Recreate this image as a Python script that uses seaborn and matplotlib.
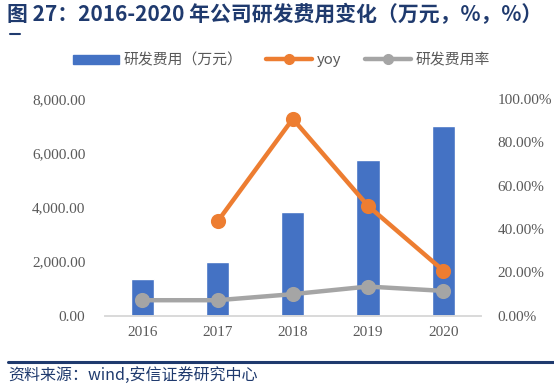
import pandas as pd
import numpy as np
import matplotlib.pyplot as plt
import seaborn as sns
from matplotlib.lines import Line2D
from matplotlib.patches import Patch

###############################################################################
# data
###############################################################################
years = ["2016", "2017", "2018", "2019", "2020"]
rd_cost = [1365, 2000, 3825, 5755, 6985]          # 研发费用（万元）
yoy = [np.nan, 43.5, 90.8, 50.7, 20.9]             # %
rd_rate = [7.2, 7.2, 10.0, 13.5, 11.5]             # %

df = pd.DataFrame({"year": years, "cost": rd_cost, "yoy": yoy, "rate": rd_rate})

###############################################################################
# style
###############################################################################
sns.set_style("white")
plt.rcParams['font.family'] = ['Noto Sans CJK SC', 'DejaVu Sans']

BLUE = "#4472C4"
ORANGE = "#ED7D31"
GRAY = "#A5A5A5"
TXT = "#595959"
NAVY = "#1F3A6E"

fig = plt.figure(figsize=(5.54, 3.88), dpi=100)
ax = fig.add_axes([0.189, 0.186, 0.679, 0.559])

sns.barplot(data=df, x="year", y="cost", color=BLUE, width=0.31,
            saturation=1, ax=ax)
ax.set_ylim(0, 8000)
ax.set_xlim(-0.5, 4.5)
ax.set_yticks([0, 2000, 4000, 6000, 8000])
ax.set_yticklabels([f"{v:,.2f}" for v in [0, 2000, 4000, 6000, 8000]],
                   family="Liberation Serif", fontsize=11, color=TXT)
ax.set_xlabel("")
ax.set_ylabel("")

ax2 = ax.twinx()
sns.pointplot(data=df, x="year", y="rate", color=GRAY, ax=ax2,
              markersize=8.5, linewidth=3.2)
sns.pointplot(data=df, x="year", y="yoy", color=ORANGE, ax=ax2,
              markersize=8.5, linewidth=3.2)
ax2.set_ylim(0, 100)
ax2.set_xlim(-0.5, 4.5)
ax2.set_yticks([0, 20, 40, 60, 80, 100])
ax2.set_yticklabels([f"{v:.2f}%" for v in [0, 20, 40, 60, 80, 100]],
                    family="Liberation Serif", fontsize=11, color=TXT)
ax2.set_ylabel("")
ax2.set_xlabel("")

ax.set_xticks(range(len(years)))
ax.set_xticklabels(years, family="Liberation Serif", fontsize=11, color=TXT)

for a in (ax, ax2):
    for s in ["top", "left", "right"]:
        a.spines[s].set_visible(False)
    a.spines["bottom"].set_color("#D9D9D9")
    a.spines["bottom"].set_linewidth(1.2)
    a.tick_params(length=0)
ax.tick_params(axis="y", pad=14)
ax2.tick_params(axis="y", pad=12)
ax.tick_params(axis="x", pad=7)

# legend
handles = [Patch(color=BLUE),
           Line2D([], [], color=ORANGE, lw=3.2, marker="o", markersize=7),
           Line2D([], [], color=GRAY, lw=3.2, marker="o", markersize=7)]
labels = ["研发费用（万元）", "yoy", "研发费用率"]
fig.legend(handles, labels, loc="center", bbox_to_anchor=(0.508, 0.845),
           ncol=3, frameon=False, fontsize=10.7, labelcolor=TXT,
           handlelength=3.1, handleheight=0.55, columnspacing=1.6,
           handletextpad=0.3)

# title and footer
fig.text(0.012, 0.962, "图 27：2016-2020 年公司研发费用变化（万元，%，%）",
         fontsize=15, fontweight="bold", color=NAVY, va="center")
fig.add_artist(Line2D([0.018, 0.036], [0.913, 0.913], color=NAVY, lw=1.5))
fig.add_artist(Line2D([0.015, 1.0], [0.068, 0.068], color=NAVY, lw=2.2))
fig.text(0.015, 0.032, "资料来源：wind,安信证券研究中心", fontsize=11.5,
         style="italic", color=NAVY, va="center")

plt.savefig("out.png", dpi=100)
